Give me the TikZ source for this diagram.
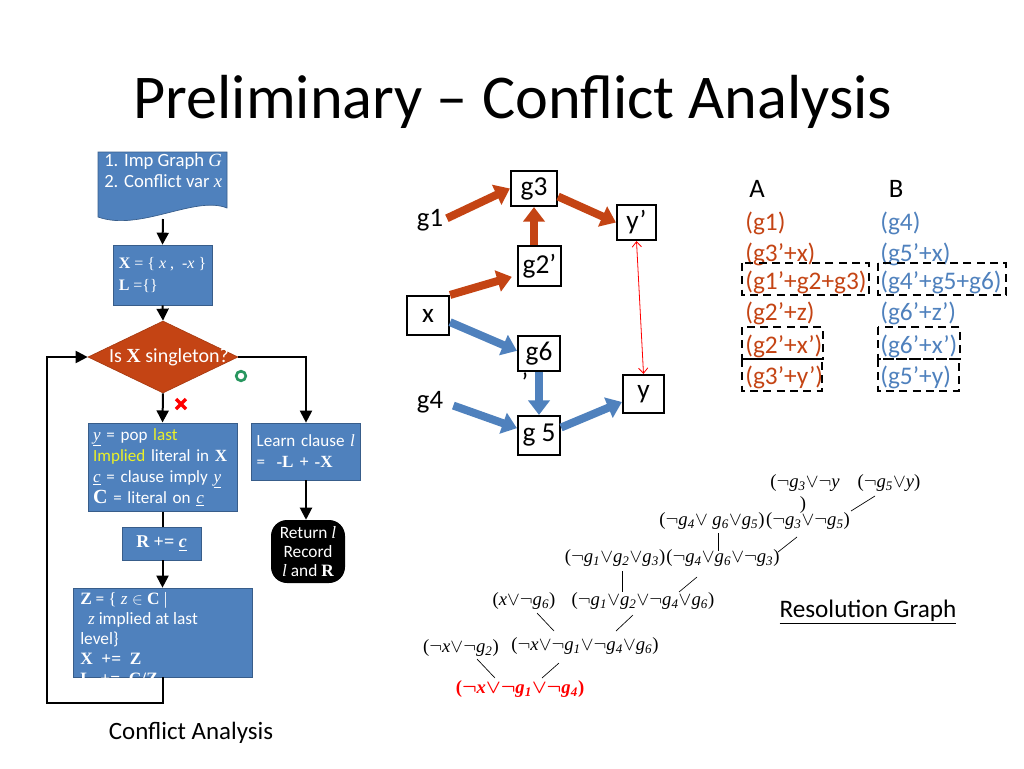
\documentclass[tikz,border=0pt]{standalone}
\usepackage{fontspec}
\setmainfont{Carlito}
\newfontfamily\tms{Liberation Serif}
\usetikzlibrary{shapes.geometric,arrows.meta,calc}
\definecolor{ored}{RGB}{196,68,20}
\definecolor{oblue}{RGB}{79,129,189}
\definecolor{bdark}{RGB}{56,93,138}
\definecolor{ogreen}{RGB}{40,150,95}
\definecolor{yel}{RGB}{235,240,40}
\newcommand\bX[1]{{\tms\bfseries #1}}
\newcommand\iT[1]{{\tms\itshape #1}}
\newcommand\Ng{$\neg$}
\newcommand\Vo{$\vee$}
\newcommand\gv[1]{\textit{g}\textsubscript{\textit{#1}}}
\begin{document}
\begin{tikzpicture}[x=0.75pt,y=-0.75pt,
 fbox/.style={draw=bdark,fill=oblue,line width=0.5pt,text=white,inner sep=4pt,font=\fontsize{12.8}{15.75}\selectfont,align=left},
 farr/.style={line width=1.5pt,-{Triangle[length=9pt,width=9pt]}},
 fline/.style={line width=1.5pt},
 gbox/.style={draw,line width=1.6pt,inner sep=0pt,font=\fontsize{20.5}{22}\selectfont},
 glab/.style={inner sep=0pt,font=\fontsize{20}{22}\selectfont},
 rarr/.style={line width=6pt,draw=ored,-{Triangle[length=11pt,width=16pt]}},
 barr/.style={line width=6pt,draw=oblue,-{Triangle[length=11pt,width=16pt]}},
 tab/.style={anchor=west,font=\fontsize{19}{22}\selectfont,inner sep=0pt},
 dbox/.style={dash pattern=on 6pt off 4pt,line width=1.5pt},
 rn/.style={font=\tms\fontsize{14}{16}\selectfont,inner sep=0pt},
 rl/.style={line width=0.5pt}]
\useasboundingbox (0,0) rectangle (1024,768);

% title
\node[anchor=base,font=\fontsize{46.7}{50}\selectfont,inner sep=0pt] (title) at (513,118) {Preliminary – Conflict Analysis};

% ---------- flowchart ----------
\draw[draw=bdark,fill=oblue,line width=0.5pt] (98,152) -- (227,152) -- (227,208) .. controls (195,195) and (140,232) .. (98,217) -- cycle;
\node[text=white,align=left,font=\fontsize{14}{15.75}\selectfont,anchor=north west,inner sep=0pt] (doc) at (104,153) {1. Imp Graph \iT{G}\\2. Conflict var \iT{x}};
\coordinate (docb) at (163,219);

\node[fbox,minimum width=74.25pt,minimum height=45pt,font=\tms\fontsize{12}{16.5}\selectfont] (bx) at (162.5,275) {\textbf{X} = \{ \textit{x} ,\ \ -\textit{x} \}\\\textbf{L} =\{\}};

\node[diamond,fill=ored,draw=ored!85!black,line width=0.5pt,minimum width=112.5pt,minimum height=54pt,inner sep=0pt] (dec) at (163,357) {};
\node[text=white,font=\fontsize{15}{18}\selectfont,inner sep=0pt] (dect) at (169,357) {Is \bX{X} singleton?};

\node[fbox,text width=104pt,minimum height=66pt] (by) at (162.5,467) {\underline{\iT{y}} = pop {\color{yel}last}\\{\color{yel}Implied} literal in \bX{X}\\\underline{\iT{c}} = clause imply \underline{\iT{y}}\\{\tms\bfseries\fontsize{15}{15}\selectfont C} = literal on \underline{\iT{c}}};

\node[fbox,minimum width=59.25pt,minimum height=24.75pt,font=\tms\bfseries\fontsize{13.5}{15}\selectfont] (br) at (161.5,543.5) {R += \underline{\textit{c}}};

\node[fbox,minimum width=134.25pt,minimum height=66.75pt] (bz) at (162.5,632.5) {};
\begin{scope}
\clip (bz.south west) rectangle (bz.north east);
\node[text=white,align=left,anchor=north west,inner sep=0pt,font=\fontsize{13}{15}\selectfont] (bzt) at (80,592) {\bX{Z} = {\tms\{ \textit{z} $\in$ \textbf{C} |}\\\ \ \iT{z} implied at last\\level\}\\\bX{X\ \ +=\ \ Z}\\\bX{L\ \ +=\ \ C/Z}};
\end{scope}

\node[fbox,text width=74pt,minimum height=42.75pt] (bl) at (306,451.5) {Learn clause \iT{l}\\=\ \ \bX{-L + -X}};

\node[fill=black,rounded corners=12pt,minimum width=55.5pt,minimum height=47.25pt,text=white,align=center,inner sep=1pt,font=\fontsize{13}{14.5}\selectfont] (ret) at (308,551.5) {Return \iT{l}\\Record\\\iT{l} and \bX{R}};

\node[font=\fontsize{18.7}{22}\selectfont,inner sep=0pt] (cap1) at (191,733) {Conflict Analysis};

% flow connectors
\draw[farr] (docb) -- (bx.north);
\draw[farr] (bx.south) -- (dec.north);
\draw[farr] (dec.south) -- (by.north);
\draw[fline] (by.south) -- (br.north -| by.south);
\draw[farr] (br.south -| bz.north) -- (bz.north);
\draw[farr] (bz.south) -- ++(0,26) -| (47,357) -- (dec.west);
\draw[farr] (dec.east) -| (bl.north);
\draw[farr] (bl.south) -- (ret.north -| bl.south);

% marks
\draw[ogreen,line width=2pt] (241,376) circle[radius=3.6pt];
\draw[red,line width=2.4pt] (176,399) -- (186,409) (186,399) -- (176,409);

% ---------- implication graph ----------
\node[gbox,minimum width=34.5pt,minimum height=26.25pt] (g3) at (534,188.5) {g3};
\node[gbox,minimum width=29.25pt,minimum height=26.25pt] (yp) at (636.5,222.5) {y’};
\node[gbox,minimum width=32.25pt,minimum height=30pt] (g2p) at (539.5,266) {g2’};
\node[gbox,minimum width=31.5pt,minimum height=29.25pt] (x) at (428,315.5) {x};
\node[gbox,minimum width=31.5pt,minimum height=26.25pt] (g6) at (539,353.5) {g6};
\node[gbox,minimum width=30.75pt,minimum height=28.5pt] (y) at (643.5,394) {y};
\node[gbox,minimum width=31.5pt,minimum height=29.25pt] (g5) at (539,435.5) {g 5};
\node[glab] (g6q) at (525,382) {’};
\node[glab] (g1) at (430,220) {g1};
\node[glab] (g4) at (430,402) {g4};

\draw[rarr,shorten <=3pt] (g1.east) -- (g3.west);
\draw[rarr] ([yshift=-6pt]g3.east) -- (yp.west);
\draw[rarr] (g3.south |- g2p.north) -- (g3.south);
\draw[rarr,shorten >=4pt] (x.north east) -- ([yshift=-7pt]g2p.west);
\draw[barr] ([yshift=-5pt]x.east) -- ([yshift=2pt]g6.west);
\draw[barr] (g6.south) -- (g5.north);
\draw[barr,shorten <=8pt] (g4.east) -- ([yshift=5.5pt]g5.west);
\draw[barr] ([yshift=6pt]g5.east) -- ([yshift=-6pt]y.west);
\draw[red,line width=0.6pt,{Straight Barb[length=4pt,width=7pt]}-{Straight Barb[length=4pt,width=7pt]}] (yp.south) -- (y.north);

% ---------- A / B table ----------
\node[glab] (hA) at (757,189) {A};
\node[glab] (hB) at (896,189) {B};
\begin{scope}[every node/.style={tab,text=ored}]
\node (a1) at (745,223) {(g1)};
\node (a2) at (745,254) {(g3’+x)};
\node (a3) at (745,282) {(g1’+g2+g3)};
\node (a4) at (745,313) {(g2’+z)};
\node (a5) at (745,346) {(g2’+x’)};
\node (a6) at (745,377) {(g3’+y’)};
\end{scope}
\begin{scope}[every node/.style={tab,text=oblue}]
\node (b1) at (880,223) {(g4)};
\node (b2) at (880,254) {(g5’+x)};
\node (b3) at (880,282) {(g4’+g5+g6)};
\node (b4) at (880,313) {(g6’+z’)};
\node (b5) at (880,346) {(g6’+x’)};
\node (b6) at (880,377) {(g5’+y)};
\end{scope}
\draw[dbox] (742,263) rectangle (869,295);
\draw[dbox] (878,263) rectangle (1006,295);
\draw[dbox] (742,327) rectangle (823,359);
\draw[dbox] (742,359) rectangle (822,391);
\draw[dbox] (878,327) rectangle (960,359);
\draw[dbox] (878,359) rectangle (959,391);

% ---------- resolution graph ----------
\node[rn] (r1) at (805,483) {(\Ng\gv{3}\Vo\Ng\textit{y}};
\node[rn] (r1b) at (803,505) {)};
\node[rn] (r2) at (889,483) {(\Ng\gv{5}\Vo\textit{y})};
\node[rn] (r3) at (712,521) {(\Ng\gv{4}\Vo{} \gv{6}\Vo\gv{5})};
\node[rn] (r4) at (808,521) {(\Ng\gv{3}\Vo\Ng\gv{5})};
\node[rn] (r5) at (615,558) {(\Ng\gv{1}\Vo\gv{2}\Vo\gv{3})};
\node[rn] (r6) at (723,558) {(\Ng\gv{4}\Vo\gv{6}\Vo\Ng\gv{3})};
\node[rn] (r7) at (524,601) {(\textit{x}\Vo\Ng\gv{6})};
\node[rn] (r8) at (643,601) {(\Ng\gv{1}\Vo\gv{2}\Vo\Ng\gv{4}\Vo\gv{6})};
\node[rn] (r9) at (461,648) {(\Ng\textit{x}\Vo\Ng\gv{2})};
\node[rn] (r10) at (585,646) {(\Ng\textit{x}\Vo\Ng\gv{1}\Vo\Ng\gv{4}\Vo\gv{6})};
\node[rn,text=red,font=\tms\bfseries\fontsize{14}{16}\selectfont\boldmath] (r11) at (520,689) {(\Ng\textit{x}\Vo\Ng\gv{1}\Vo\Ng\gv{4})};

\draw[rl] (r2) ++(-14,13) -- ++(-24,15);
\draw[rl] (r3) ++(6,12) -- ++(0,18);
\draw[rl] (r4) ++(-11,16) -- ++(-19,15);
\draw[rl] (r5) ++(7,13) -- ++(0,21);
\draw[rl] (r6) ++(-26,19) -- ++(-18,15);
\draw[rl] (r7) ++(13,12) -- ++(17,18);
\draw[rl] (r8) ++(-10,14) -- ++(-17,16);
\draw[rl] (r9) ++(16,11) -- ++(18,19);
\draw[rl] (r10) ++(-26,17) -- ++(-17,15);

\node[font=\fontsize{18.9}{22}\selectfont,inner sep=0pt] (cap2) at (868,612) {\underline{Resolution Graph}};
\end{tikzpicture}
\end{document}
